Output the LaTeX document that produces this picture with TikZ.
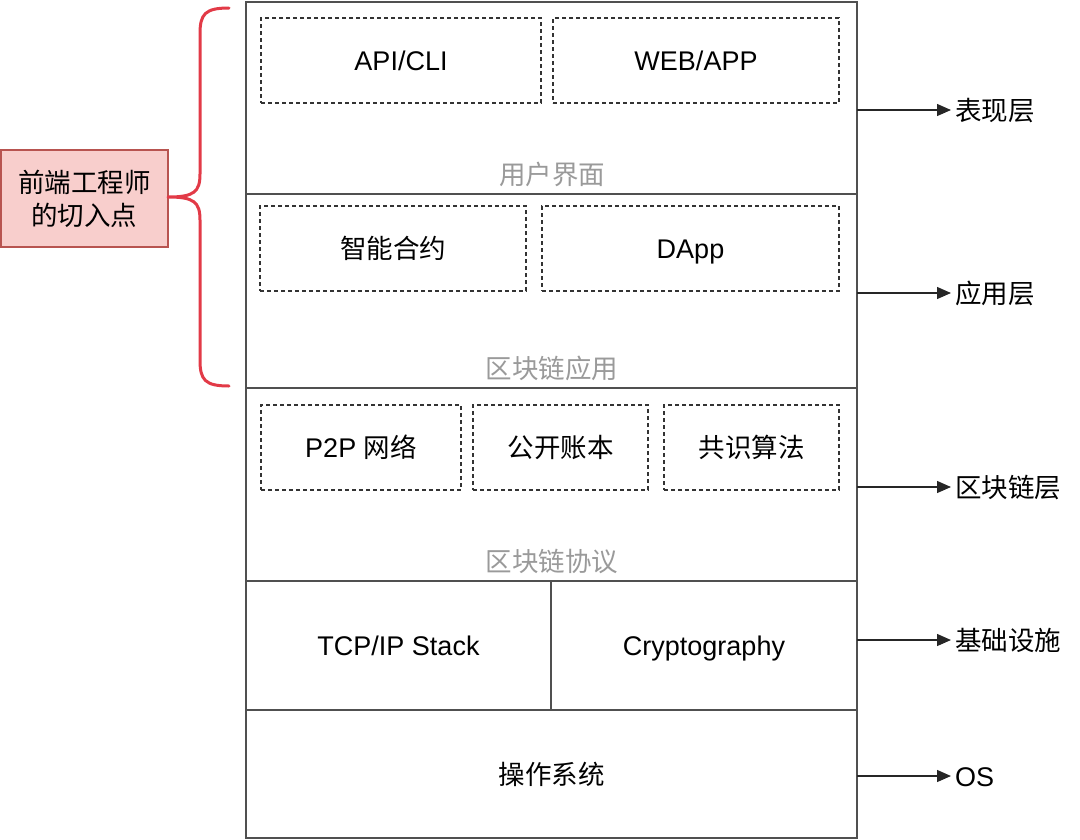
\documentclass[tikz,border=0pt]{standalone}
\usepackage{fontspec}
\setmainfont{Liberation Sans}
\newfontfamily\cjk{Noto Sans CJK SC}
\usetikzlibrary{arrows.meta}
\definecolor{lineg}{HTML}{505050}
\definecolor{labg}{HTML}{9A9A9A}
\definecolor{pinkf}{HTML}{F8CECC}
\definecolor{pinkd}{HTML}{B85450}
\definecolor{bracer}{HTML}{E23A47}
\begin{document}
\begin{tikzpicture}[x=1pt,y=-1pt,
  every node/.style={inner sep=0pt,outer sep=0pt,font=\fontsize{27}{32}\selectfont},
  txt/.style={text height=24pt,text depth=4pt},
  layer/.style={draw=lineg,line width=1.7pt,anchor=north west},
  dbox/.style={draw=black!80,line width=1.3pt,dash pattern=on 4pt off 3pt,anchor=north west},
  cj/.style={txt,font=\fontsize{26.5}{32}\selectfont\cjk},
  glab/.style={cj,text=labg},
  rlab/.style={cj,anchor=west},
  arr/.style={draw=black!85,line width=1.3pt,-{Triangle[length=14pt,width=12pt]}}]
\useasboundingbox (0,0) rectangle (1080,839);
% layers
\node[layer,minimum width=611pt,minimum height=192pt] (L1) at (246,2) {};
\node[layer,minimum width=611pt,minimum height=194pt] (L2) at (246,194) {};
\node[layer,minimum width=611pt,minimum height=193pt] (L3) at (246,388) {};
\node[layer,minimum width=305pt,minimum height=129pt] (L4a) at (246,581) {};
\node[layer,minimum width=306pt,minimum height=129pt] (L4b) at (551,581) {};
\node[layer,minimum width=611pt,minimum height=128pt] (L5) at (246,710) {};
% dashed boxes
\node[dbox,minimum width=280pt,minimum height=85pt] (api) at (261,18) {};
\node[txt] at (api.center) {API/CLI};
\node[dbox,minimum width=286pt,minimum height=85pt] (web) at (553,18) {};
\node[txt] at (web.center) {WEB/APP};
\node[dbox,minimum width=266pt,minimum height=85pt] (sc) at (260,206) {};
\node[cj] at (sc.center) {智能合约};
\node[dbox,minimum width=297pt,minimum height=85pt] (dapp) at (542,206) {};
\node[txt] at (dapp.center) {DApp};
\node[dbox,minimum width=200pt,minimum height=85pt] (p2p) at (261,405) {};
\node[txt] at (p2p.center) {P2P {\fontsize{26.5}{32}\selectfont\cjk 网络}};
\node[dbox,minimum width=175pt,minimum height=85pt] (ledger) at (473,405) {};
\node[cj] at (ledger.center) {公开账本};
\node[dbox,minimum width=175pt,minimum height=85pt] (cons) at (664,405) {};
\node[cj] at (cons.center) {共识算法};
% gray labels
\node[glab] (g1) at (552,174) {用户界面};
\node[glab] (g2) at (552,368) {区块链应用};
\node[glab] (g3) at (552,561) {区块链协议};
% bottom texts
\node[txt] at (L4a.center) {TCP/IP Stack};
\node[txt] at (L4b.center) {Cryptography};
\node[cj] at (L5.center) {操作系统};
% right labels and arrows
\node[rlab] (r1) at (955,110) {表现层};
\node[rlab] (r2) at (955,293) {应用层};
\node[rlab] (r3) at (955,487) {区块链层};
\node[rlab] (r4) at (955,640) {基础设施};
\node[txt,anchor=west] (r5) at (955,776) {OS};
\coordinate (a1) at (857,110);
\coordinate (a2) at (857,293);
\coordinate (a3) at (857,487);
\coordinate (a4) at (857,640);
\coordinate (a5) at (857,776);
\draw[arr] (a1) -- ([xshift=-4pt]r1.west);
\draw[arr] (a2) -- ([xshift=-4pt]r2.west);
\draw[arr] (a3) -- ([xshift=-4pt]r3.west);
\draw[arr] (a4) -- ([xshift=-4pt]r4.west);
\draw[arr] (a5) -- ([xshift=-4pt]r5.west);
% pink box
\node[draw=pinkd,fill=pinkf,line width=1.2pt,minimum width=167pt,minimum height=97pt,anchor=north west,align=center,font=\fontsize{26.5}{33}\selectfont\cjk] (fe) at (1,150) {前端工程师\\的切入点};
% brace
\coordinate (bt) at (229,8);
\coordinate (bb) at (229,386);
\draw[bracer,line width=3pt,line cap=round,line join=round]
  (bt) .. controls (205,8) and (200,14) .. (200,34)
  -- (200,174) .. controls (200,192) and (194,197) .. (fe.east |- 0,197)
  .. controls (194,197) and (200,202) .. (200,220)
  -- (200,360) .. controls (200,380) and (205,386) .. (bb);
\end{tikzpicture}
\end{document}
